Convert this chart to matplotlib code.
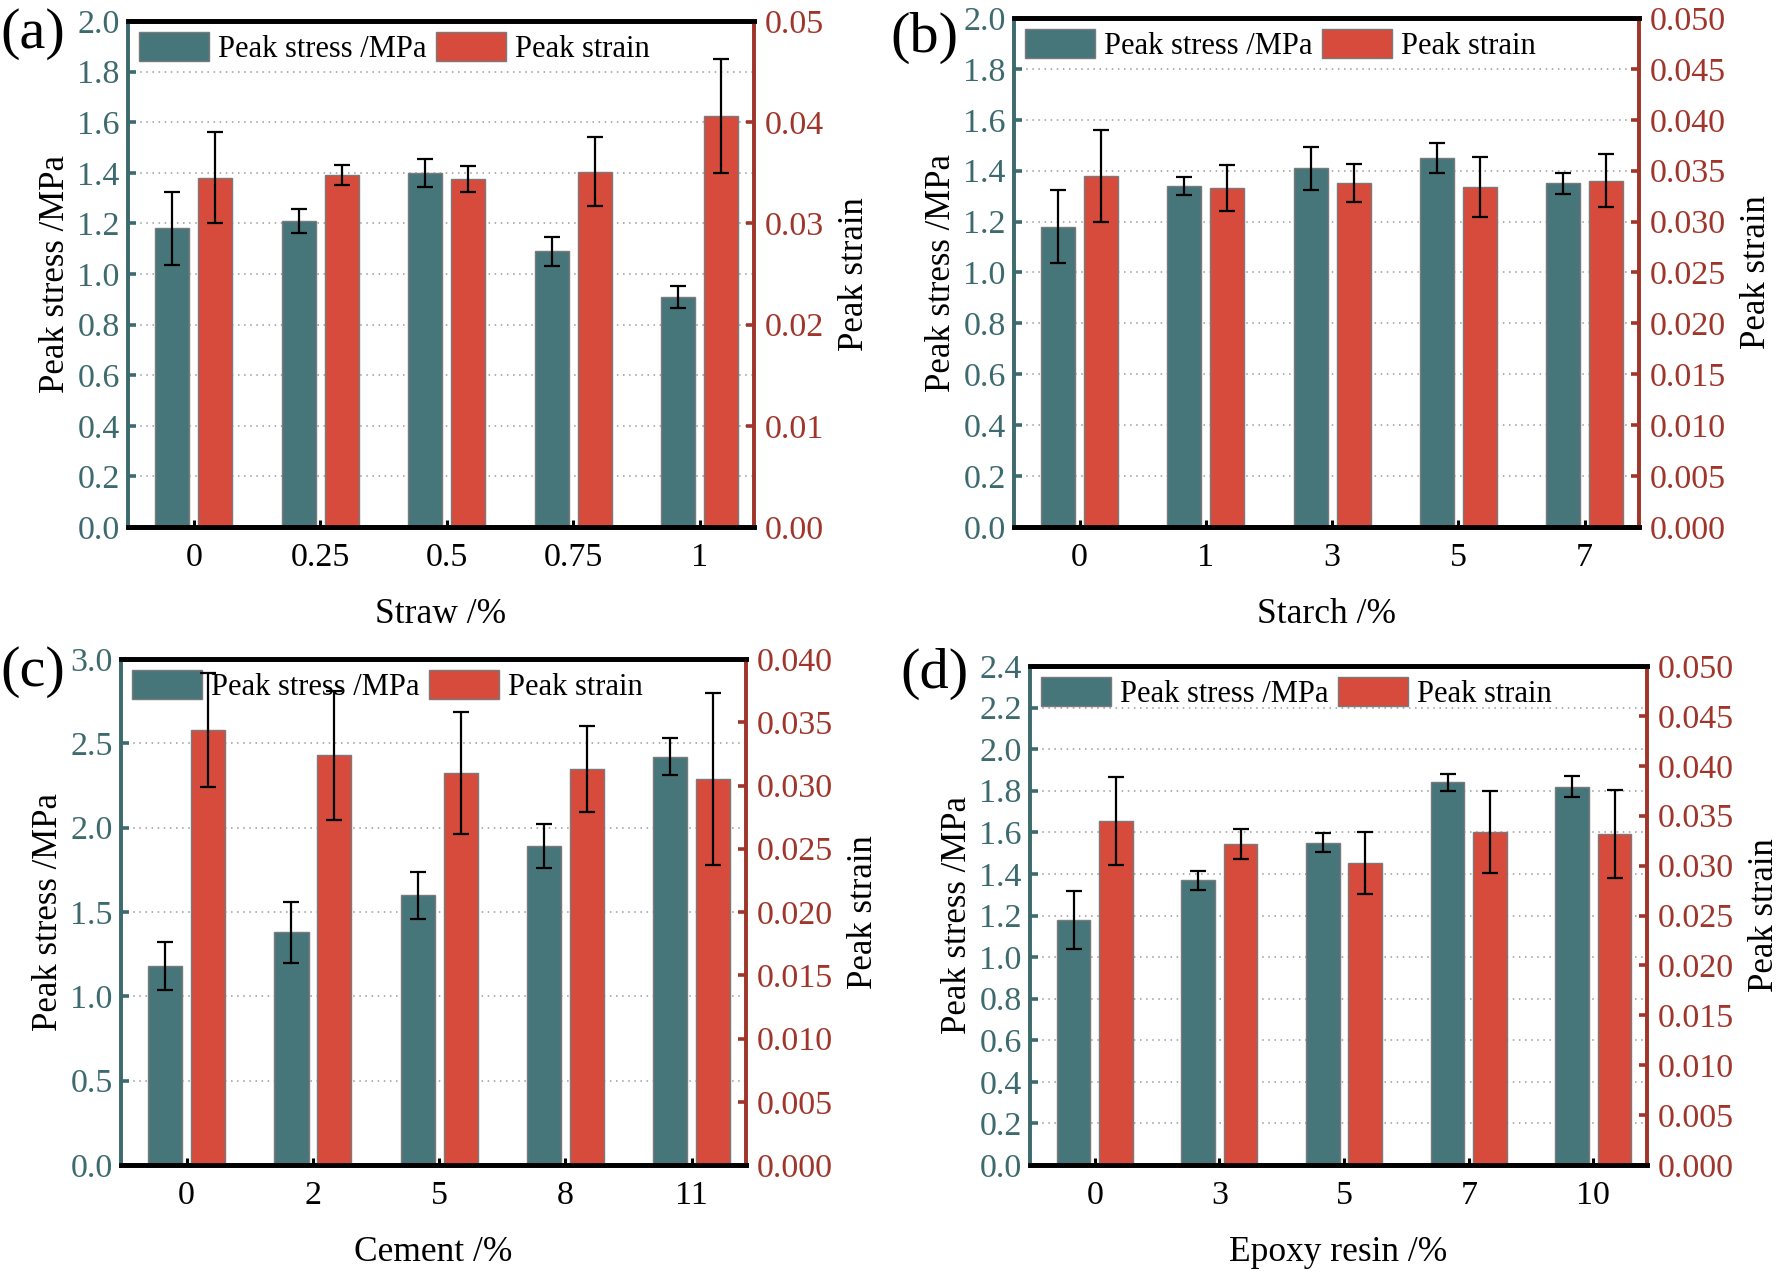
import numpy as np
import matplotlib
matplotlib.use("Agg")
import matplotlib.pyplot as plt
import matplotlib.ticker as ticker
from matplotlib.patches import Patch

plt.rcParams["font.family"] = ["Liberation Serif", "DejaVu Serif"]

# Panel data
straw_labels = ["0", "0.25", "0.5", "0.75", "1"]
straw_stress = [1.18, 1.21, 1.40, 1.09, 0.91]
straw_stress_err = [0.143, 0.046, 0.055, 0.058, 0.043]
straw_strain = [0.0345, 0.0348, 0.0344, 0.0351, 0.0406]
straw_strain_err = [0.0045, 0.0010, 0.0013, 0.0034, 0.0056]

starch_labels = ["0", "1", "3", "5", "7"]
starch_stress = [1.18, 1.34, 1.41, 1.45, 1.35]
starch_stress_err = [0.143, 0.037, 0.085, 0.059, 0.042]
starch_strain = [0.0345, 0.0333, 0.0338, 0.0334, 0.0340]
starch_strain_err = [0.0045, 0.0023, 0.0019, 0.0029, 0.0026]

cement_labels = ["0", "2", "5", "8", "11"]
cement_stress = [1.18, 1.38, 1.60, 1.89, 2.42]
cement_stress_err = [0.14, 0.18, 0.14, 0.13, 0.11]
cement_strain = [0.0344, 0.0324, 0.0310, 0.0313, 0.0305]
cement_strain_err = [0.0045, 0.0051, 0.0048, 0.0034, 0.0068]

epoxy_labels = ["0", "3", "5", "7", "10"]
epoxy_stress = [1.18, 1.37, 1.55, 1.84, 1.82]
epoxy_stress_err = [0.14, 0.045, 0.045, 0.042, 0.05]
epoxy_strain = [0.0345, 0.0322, 0.0303, 0.0334, 0.0332]
epoxy_strain_err = [0.0044, 0.0015, 0.0031, 0.0041, 0.0044]

STRESS_COLOR = "#46757A"
STRAIN_COLOR = "#D64B3B"
LEFT_COLOR = "#3D6A6E"
RIGHT_COLOR = "#A0362B"
EDGE = "#7A7A7A"
TICK_FS = 24.5


def draw_panel(fig, rect, tag, tag_pos, xlabel, labels, stress, stress_err,
               strain, strain_err, ylim1, ystep1, ylim2, ystep2, fmt2):
    ax = fig.add_axes(rect)
    ax2 = ax.twinx()
    x = np.arange(len(labels))
    w = 0.27
    off = 0.17

    ax.bar(x - off, stress, w, color=STRESS_COLOR, edgecolor=EDGE,
           linewidth=1.0, zorder=2)
    ax.errorbar(x - off, stress, yerr=stress_err, fmt="none", ecolor="black",
                elinewidth=1.6, capsize=5.5, capthick=1.6, zorder=3)
    ax2.bar(x + off, strain, w, color=STRAIN_COLOR, edgecolor=EDGE,
            linewidth=1.0, zorder=2)
    ax2.errorbar(x + off, strain, yerr=strain_err, fmt="none", ecolor="black",
                 elinewidth=1.6, capsize=5.5, capthick=1.6, zorder=6)

    ax.set_xlim(-0.52, 4.43)
    ax.set_ylim(*ylim1)
    ax2.set_ylim(*ylim2)
    ax.yaxis.set_major_locator(ticker.MultipleLocator(ystep1))
    ax.yaxis.set_major_formatter(ticker.FormatStrFormatter("%.1f"))
    ax2.yaxis.set_major_locator(ticker.MultipleLocator(ystep2))
    ax2.yaxis.set_major_formatter(ticker.FormatStrFormatter(fmt2))

    ax.set_xticks(x)
    ax.set_xticklabels(labels)
    ax.tick_params(axis="x", direction="in", length=5, width=2.2,
                   color="black", labelsize=TICK_FS, pad=11)
    ax.tick_params(axis="y", direction="in", length=6, width=2.6,
                   color=LEFT_COLOR, labelcolor=LEFT_COLOR, labelsize=TICK_FS, pad=6)
    ax2.tick_params(axis="y", direction="in", length=6, width=2.6,
                    color=RIGHT_COLOR, labelcolor=RIGHT_COLOR, labelsize=TICK_FS, pad=8)

    ax.yaxis.grid(True, linestyle=(0, (1, 3)), linewidth=1.1, color="#9A9A9A")
    ax.set_axisbelow(True)

    for a in (ax, ax2):
        a.spines["left"].set_color(LEFT_COLOR)
        a.spines["right"].set_color(RIGHT_COLOR)
        a.spines["top"].set_color("black")
        a.spines["bottom"].set_color("black")
        for s in a.spines.values():
            s.set_linewidth(2.6)
        a.spines["bottom"].set_linewidth(3.4)
        a.spines["top"].set_linewidth(3.4)

    ax.set_xlabel(xlabel, fontsize=25.5, labelpad=18)
    ax.set_ylabel("Peak stress /MPa", fontsize=25, labelpad=4)
    ax2.set_ylabel("Peak strain", fontsize=25, labelpad=10)

    handles = [Patch(facecolor=STRESS_COLOR, edgecolor=EDGE, linewidth=1.0),
               Patch(facecolor=STRAIN_COLOR, edgecolor=EDGE, linewidth=1.0)]
    leg = ax2.legend(handles, ["Peak stress /MPa", "Peak strain"], loc="upper left",
                     ncol=2, frameon=False, fontsize=22, handlelength=2.3,
                     handleheight=1.1, handletextpad=0.3, columnspacing=0.3,
                     borderaxespad=0.25, borderpad=0.1)
    leg.set_zorder(5)

    fig.text(tag_pos[0], tag_pos[1], tag, fontsize=42, ha="left", va="center")
    return ax, ax2


fig = plt.figure(figsize=(17.86, 12.72), dpi=100)
W, H = 1786.0, 1272.0


def rect(l, r, t, b):
    return [l / W, 1 - b / H, (r - l) / W, (b - t) / H]


draw_panel(fig, rect(128, 754, 21, 527), "(a)", (0 / W, 1 - 34 / H), "Straw /%",
           straw_labels, straw_stress, straw_stress_err, straw_strain, straw_strain_err,
           (0, 2.0), 0.2, (0, 0.05), 0.01, "%.2f")
draw_panel(fig, rect(1014, 1639, 18, 527), "(b)", (890 / W, 1 - 38 / H), "Starch /%",
           starch_labels, starch_stress, starch_stress_err, starch_strain, starch_strain_err,
           (0, 2.0), 0.2, (0, 0.05), 0.005, "%.3f")
draw_panel(fig, rect(121, 746, 659, 1165), "(c)", (0 / W, 1 - 672 / H), "Cement /%",
           cement_labels, cement_stress, cement_stress_err, cement_strain, cement_strain_err,
           (0, 3.0), 0.5, (0, 0.04), 0.005, "%.3f")
draw_panel(fig, rect(1030, 1647, 666, 1165), "(d)", (900 / W, 1 - 674 / H), "Epoxy resin /%",
           epoxy_labels, epoxy_stress, epoxy_stress_err, epoxy_strain, epoxy_strain_err,
           (0, 2.4), 0.2, (0, 0.05), 0.005, "%.3f")

fig.savefig("out.png", dpi=100)
